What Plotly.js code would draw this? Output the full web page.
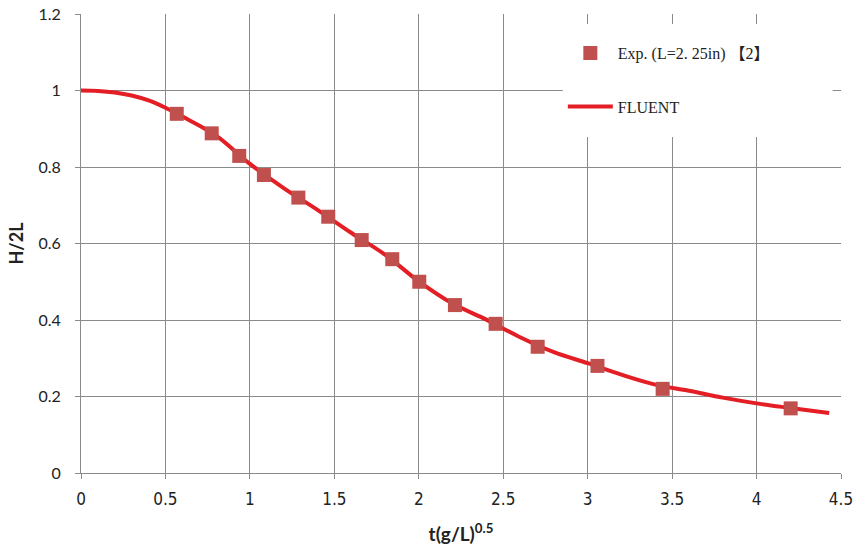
<!DOCTYPE html>
<html>
<head>
<meta charset="utf-8">
<script src="https://cdn.plot.ly/plotly-3.0.1.min.js"></script>
<style>html,body{margin:0;padding:0;background:#fff;}#chart{width:855px;height:547px;}</style>
</head>
<body>
<div id="chart"></div>
<script>
// Experimental data points
const expX = [0.567, 0.774, 0.937, 1.083, 1.287, 1.464, 1.662, 1.843, 2.003, 2.214, 2.455, 2.704, 3.058, 3.444, 4.202];
const expY = [0.939, 0.888, 0.829, 0.779, 0.720, 0.670, 0.609, 0.559, 0.500, 0.439, 0.390, 0.330, 0.280, 0.220, 0.169];
// FLUENT curve
const fluentX = [0, 0.1, 0.2, 0.3, 0.4, 0.5, 0.6, 0.8, 1.0, 1.2, 1.4, 1.6, 1.8, 2.0, 2.2, 2.4, 2.6, 2.8, 3.0, 3.2, 3.4, 3.6, 3.8, 4.0, 4.2, 4.43];
const fluentY = [1.0, 0.999, 0.995, 0.987, 0.974, 0.955, 0.932, 0.882, 0.808, 0.745, 0.688, 0.628, 0.571, 0.501, 0.443, 0.401, 0.355, 0.316, 0.287, 0.257, 0.231, 0.215, 0.197, 0.182, 0.170, 0.157];
const xTicks = [0, 0.5, 1, 1.5, 2, 2.5, 3, 3.5, 4, 4.5];
const xTickText = ['0', '0.5', '1', '1.5', '2', '2.5', '3', '3.5', '4', '4.5'];
const yTicks = [0, 0.2, 0.4, 0.6, 0.8, 1, 1.2];
const yTickText = ['0', '0.2', '0.4', '0.6', '0.8', '1', '1.2'];

const legendFont = {family: 'Liberation Serif, "Noto Sans CJK JP", serif', size: 16, color: '#222'};

const traces = [
  {
    x: fluentX, y: fluentY, type: 'scatter', mode: 'lines', name: 'FLUENT',
    line: {color: '#E31E24', width: 4, shape: 'spline'},
    legend: 'legend2'
  },
  {
    x: expX, y: expY, type: 'scatter', mode: 'markers', name: 'Exp. (L=2. 25in) 【2】',
    marker: {symbol: 'square', size: 14, color: '#C0504D'},
    legend: 'legend'
  }
];

const layout = {
  width: 855, height: 547,
  margin: {l: 81, r: 14, t: 14, b: 74},
  paper_bgcolor: '#fff', plot_bgcolor: '#fff',
  showlegend: true,
  xaxis: {
    range: [0, 4.5], tickvals: xTicks, ticktext: xTickText,
    showgrid: true, gridcolor: '#8a8a8a', gridwidth: 1,
    showline: true, linecolor: '#8a8a8a', linewidth: 1,
    ticks: 'outside', ticklen: 5, tickcolor: '#8a8a8a',
    ticklabelstandoff: 6,
    zeroline: false,
    tickfont: {family: '"DejaVu Sans Condensed", "Liberation Sans Narrow", "Roboto Condensed", "Liberation Sans", sans-serif', size: 17, color: '#222'},
    title: {text: '<b>t(g/L)<sup>0.5</sup></b>', font: {family: 'Lato, "Open Sans", sans-serif', size: 19, color: '#222'}, standoff: 19}
  },
  yaxis: {
    range: [0, 1.2], tickvals: yTicks, ticktext: yTickText,
    showgrid: true, gridcolor: '#8a8a8a', gridwidth: 1,
    showline: true, linecolor: '#8a8a8a', linewidth: 1,
    ticks: 'outside', ticklen: 5, tickcolor: '#8a8a8a',
    ticklabelstandoff: 11,
    zeroline: false,
    tickfont: {family: 'Lato, "Open Sans", sans-serif', size: 16, color: '#222'},
    title: {text: '<b>H/2L</b>', font: {family: 'Lato, "Open Sans", sans-serif', size: 18, color: '#222'}, standoff: 10}
  },
  shapes: [{
    type: 'rect', xref: 'paper', yref: 'paper', layer: 'above',
    x0: 0.634, x1: 0.989, y0: 0.732, y1: 0.978,
    fillcolor: '#fff', line: {width: 0}
  }],
  legend: {
    x: 0.634, y: 0.915, xanchor: 'left', yanchor: 'middle',
    bgcolor: 'rgba(0,0,0,0)', borderwidth: 0, font: legendFont, itemwidth: 45
  },
  legend2: {
    x: 0.634, y: 0.798, xanchor: 'left', yanchor: 'middle',
    bgcolor: 'rgba(0,0,0,0)', borderwidth: 0, font: legendFont, itemwidth: 45
  }
};

Plotly.newPlot('chart', traces, layout, {displayModeBar: false, staticPlot: true});
</script>
</body>
</html>
